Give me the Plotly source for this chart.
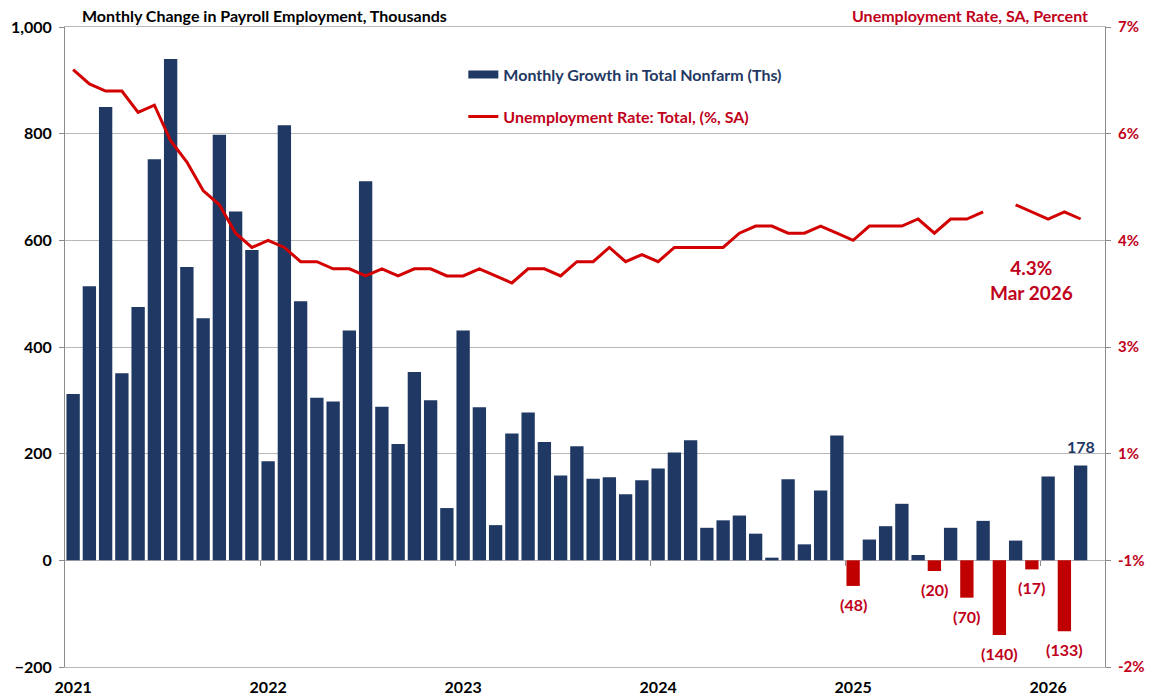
import plotly.graph_objects as go

# ---- data ----
months = [f"{m} {y}" for y in range(2021, 2027) for m in
          ["Jan", "Feb", "Mar", "Apr", "May", "Jun", "Jul", "Aug", "Sep", "Oct", "Nov", "Dec"]][:63]

payrolls = [
    312, 514, 850, 351, 475, 752, 940, 550, 454, 798, 654, 582,   # 2021
    186, 816, 486, 305, 298, 431, 711, 288, 218, 353, 300, 98,    # 2022
    431, 287, 66, 238, 277, 222, 159, 214, 153, 156, 124, 150,    # 2023
    172, 202, 225, 61, 75, 84, 50, 5, 152, 30, 131, 234,          # 2024
    -48, 39, 64, 106, 10, -20, 61, -70, 74, -140, 37, -17,        # 2025
    157, -133, 178,                                               # 2026
]

unemployment = [
    6.4, 6.2, 6.1, 6.1, 5.8, 5.9, 5.4, 5.1, 4.7, 4.5, 4.1, 3.9,   # 2021
    4.0, 3.9, 3.7, 3.7, 3.6, 3.6, 3.5, 3.6, 3.5, 3.6, 3.6, 3.5,   # 2022
    3.5, 3.6, 3.5, 3.4, 3.6, 3.6, 3.5, 3.7, 3.7, 3.9, 3.7, 3.8,   # 2023
    3.7, 3.9, 3.9, 3.9, 3.9, 4.1, 4.2, 4.2, 4.1, 4.1, 4.2, 4.1,   # 2024
    4.0, 4.2, 4.2, 4.2, 4.3, 4.1, 4.3, 4.3, 4.4, None, 4.5, 4.4,  # 2025
    4.3, 4.4, 4.3,                                                # 2026
]

year_labels = ["2021", "2022", "2023", "2024", "2025", "2026"]
year_ticks = [months[i * 12] for i in range(6)]
left_ticks = [-200, 0, 200, 400, 600, 800, 1000]
right_tickvals = [-2, -0.5, 1, 2.5, 4, 5.5, 7]
right_ticktext = ["-2%", "-1%", "1%", "3%", "4%", "6%", "7%"]
year_boundaries = [11.5, 23.5, 35.5, 47.5, 59.5]

bar_name = "Monthly Growth in Total Nonfarm (Ths)"
line_name = "Unemployment Rate: Total, (%, SA)"
left_title = "Monthly Change in Payroll Employment, Thousands"
right_title = "Unemployment Rate, SA, Percent"
note_text = "4.3%<br>Mar 2026"

# ---- styles ----
NAVY = "#1f3864"
RED_BAR = "#c00000"
RED_LINE = "#d20000"
RED_TXT = "#c0001a"
GRID = "#b7b7b7"
AXIS = "#8c8c8c"
FONT = "Lato"
FS = 16

bar_colors = [NAVY if v >= 0 else RED_BAR for v in payrolls]

fig = go.Figure()
fig.add_trace(go.Bar(
    x=months, y=payrolls, showlegend=False,
    marker=dict(color=bar_colors, line=dict(width=0)),
    yaxis="y",
))
# legend entry for the bars (wide rectangle swatch like the original)
fig.add_trace(go.Scatter(
    x=[None], y=[None], mode="lines", line=dict(color=NAVY, width=8),
    name=f"<span style='color:{NAVY}'>{bar_name}</span>", legendgroup="a",
))
fig.add_trace(go.Scatter(
    x=months, y=unemployment, name=f"<span style='color:{RED_TXT}'>{line_name}</span>",
    mode="lines", line=dict(color=RED_LINE, width=3), connectgaps=False,
    legendgroup="b", yaxis="y2",
))
# helper trace so the zero-line tick axis is drawn
fig.add_trace(go.Scatter(x=[0], y=[0], xaxis="x2", yaxis="y", mode="markers",
                         marker=dict(opacity=0), showlegend=False, hoverinfo="skip"))

fig.update_layout(
    width=1150, height=698,
    margin=dict(l=65, r=45, t=27, b=31, autoexpand=False),
    plot_bgcolor="white", paper_bgcolor="white",
    bargap=0.18,
    font=dict(family=FONT, size=FS, color="black", weight="bold"),
    xaxis=dict(type="category", range=[-0.5, 63.5], tickvals=year_ticks, ticktext=year_labels,
               ticks="", showgrid=False, showline=True, linecolor=GRID, mirror=True,
               tickfont=dict(family=FONT, size=FS, color="black", weight="bold"),
               ticklabelstandoff=6, zeroline=False, automargin=False),
    xaxis2=dict(overlaying="x", anchor="free", position=1 / 6, range=[-0.5, 63.5],
                tickvals=year_boundaries, ticks="outside", ticklen=5, tickcolor=AXIS,
                showticklabels=False, showgrid=False, showline=False, zeroline=False,
                automargin=False),
    yaxis=dict(range=[-200, 1000], tickvals=left_ticks, tickformat=",", ticks="outside",
               ticklen=5, tickcolor=AXIS, showline=True, linecolor=AXIS, gridcolor=GRID,
               zeroline=False, tickfont=dict(family=FONT, size=FS, color="black", weight="bold"),
               ticklabelstandoff=4, automargin=False),
    yaxis2=dict(overlaying="y", side="right", range=[-2, 7], tickvals=right_tickvals,
                ticktext=right_ticktext, showgrid=False, ticks="outside", ticklen=5,
                tickcolor=AXIS, showline=True, linecolor=AXIS, zeroline=False,
                tickfont=dict(family=FONT, size=15, color=RED_TXT, weight="bold"),
                ticklabelstandoff=4, automargin=False),
    legend=dict(x=0.383, y=0.952, xanchor="left", yanchor="top", bgcolor="rgba(0,0,0,0)",
                tracegroupgap=18, font=dict(family=FONT, size=FS, weight="bold")),
    showlegend=True,
)

# value labels: negatives below bar ends, latest month above
for i, v in enumerate(payrolls):
    if v < 0:
        fig.add_annotation(text=f"({abs(v)})", xref="x", yref="y", x=months[i], y=v,
                           yanchor="top", yshift=-7, showarrow=False,
                           font=dict(family=FONT, size=FS, color=RED_TXT, weight="bold"))
fig.add_annotation(text=str(payrolls[-1]), xref="x", yref="y", x=months[-1], y=payrolls[-1],
                   yanchor="bottom", yshift=7, showarrow=False,
                   font=dict(family=FONT, size=FS, color=NAVY, weight="bold"))

fig.add_annotation(text=left_title, xref="paper", yref="paper", x=0.014, y=1,
                   xanchor="left", yanchor="bottom", showarrow=False,
                   font=dict(family=FONT, size=FS, color="black", weight="bold"))
fig.add_annotation(text=right_title, xref="paper", yref="paper", x=0.986, y=1,
                   xanchor="right", yanchor="bottom", showarrow=False,
                   font=dict(family=FONT, size=FS, color=RED_TXT, weight="bold"))
fig.add_annotation(text=note_text, xref="x", yref="y2", x=months[59], y=3.44,
                   showarrow=False, align="center",
                   font=dict(family=FONT, size=19, color=RED_TXT, weight="bold"))

fig.write_html("out.html")
